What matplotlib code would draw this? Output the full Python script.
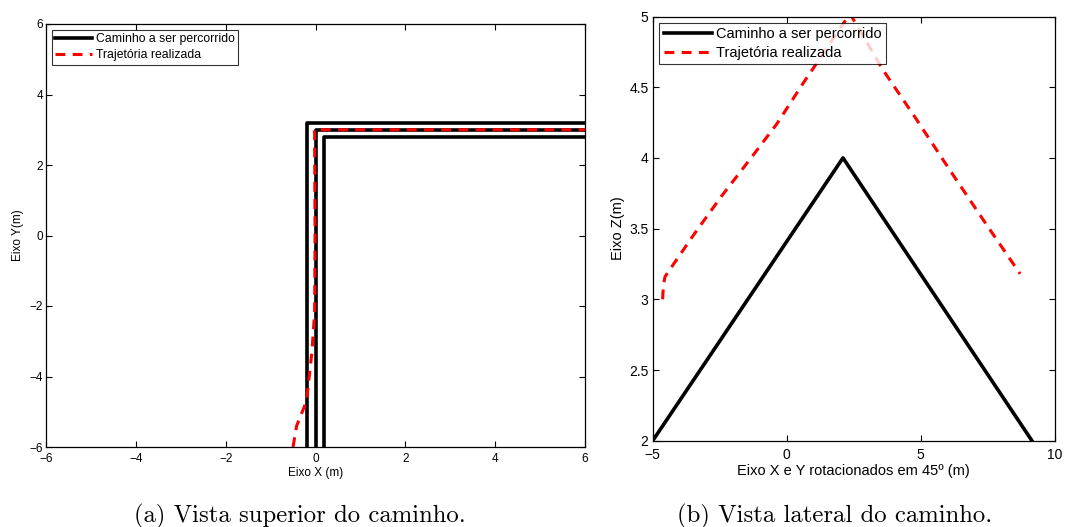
import numpy as np
import matplotlib
matplotlib.use("Agg")
import matplotlib.pyplot as plt
from matplotlib.ticker import FormatStrFormatter

plt.rcParams['font.family'] = ['Liberation Sans', 'DejaVu Sans']

# --- (a) vista superior ---
ext_x = [-0.2, -0.2, 6.5]      # caminho, borda externa
ext_y = [-6.5, 3.2, 3.2]
meio_x = [0.0, 0.0, 6.5]       # caminho, centro
meio_y = [-6.5, 3.0, 3.0]
int_x = [0.2, 0.2, 6.5]        # caminho, borda interna
int_y = [-6.5, 2.8, 2.8]
traj_a_x = [-0.5, -0.42, -0.2, -0.08, -0.02, -0.01, -0.02, -0.03, 6.5]
traj_a_y = [-6.0, -5.4, -4.7, -3.3, -2.2, 0.0, 2.9, 3.0, 3.0]
ticks_a = [-6, -4, -2, 0, 2, 4, 6]

# --- (b) vista lateral ---
cam_b_x = [-5.0, 2.1, 9.15]
cam_b_y = [2.0, 4.0, 2.0]
traj_b_x = [-4.63, -4.6, -4.54, -4.29, -3.42, -2.43, -1.37, -0.37, 0.62, 1.37, 2.36,
            3.6, 4.85, 6.1, 7.34, 8.71]
traj_b_y = [3.0, 3.1, 3.16, 3.23, 3.47, 3.73, 3.99, 4.24, 4.53, 4.74, 5.02,
            4.62, 4.27, 3.91, 3.56, 3.18]
xticks_b = [-5, 0, 5, 10]
yticks_b = [2, 2.5, 3, 3.5, 4, 4.5, 5]

lw = 2.6
dash = (3.2, 2.4)

fig = plt.figure(figsize=(10.66, 5.27), dpi=100)

############ (a)
ax1 = fig.add_axes([46/1066, 1-447/527, (585-46)/1066, (447-24)/527])
ax1.plot(ext_x, ext_y, color='black', lw=lw, label='Caminho a ser percorrido')
ax1.plot(meio_x, meio_y, color='black', lw=lw)
ax1.plot(int_x, int_y, color='black', lw=lw)
ax1.plot(traj_a_x, traj_a_y, color='red', lw=lw*0.85, dashes=dash, label='Trajetória realizada')
ax1.set_xlim(-6, 6)
ax1.set_ylim(-6, 6)
ax1.set_xticks(ticks_a)
ax1.set_yticks(ticks_a)
ax1.tick_params(direction='in', top=True, right=True, labelsize=8.5, length=4, width=0.8, pad=2)
ax1.tick_params(axis='x', pad=4)
ax1.set_xlabel('Eixo X (m)', fontsize=8.5, labelpad=2)
ax1.set_ylabel('Eixo Y(m)', fontsize=8.5, labelpad=4)
leg1 = ax1.legend(loc='upper left', fontsize=8.8, frameon=True, fancybox=False,
                  borderpad=0.3, handlelength=3.0, handletextpad=0.3, labelspacing=0.3,
                  borderaxespad=0.45)
leg1.get_frame().set_edgecolor('black')
leg1.get_frame().set_linewidth(0.8)
for s in ax1.spines.values():
    s.set_linewidth(0.9)

############ (b)
ax2 = fig.add_axes([652.7/1066, 1-440.7/527, (1054.7-652.7)/1066, (440.7-16.5)/527])
ax2.plot(cam_b_x, cam_b_y, color='black', lw=lw, label='Caminho a ser percorrido')
ax2.plot(traj_b_x, traj_b_y, color='red', lw=lw*0.85, dashes=dash, label='Trajetória realizada')
ax2.set_xlim(-5, 10)
ax2.set_ylim(2, 5)
ax2.set_xticks(xticks_b)
ax2.set_yticks(yticks_b)
ax2.yaxis.set_major_formatter(FormatStrFormatter('%g'))
ax2.tick_params(direction='in', top=True, right=True, labelsize=10, length=4, width=0.8, pad=3)
ax2.tick_params(axis='x', pad=5)
ax2.set_xlabel('Eixo X e Y rotacionados em 45º (m)', fontsize=10.5, labelpad=2)
ax2.set_ylabel('Eixo Z(m)', fontsize=10.5, labelpad=3)
leg2 = ax2.legend(loc='upper left', fontsize=10.5, frameon=True, fancybox=False,
                  borderpad=0.3, handlelength=3.3, handletextpad=0.3, labelspacing=0.3,
                  borderaxespad=0.45)
leg2.get_frame().set_edgecolor('black')
leg2.get_frame().set_linewidth(0.8)
for s in ax2.spines.values():
    s.set_linewidth(0.9)

# legendas das figuras
fig.text(300/1066, 1-522/527, '(a) Vista superior do caminho.', family='cmr10',
         fontsize=17.8, ha='center', va='baseline')
fig.text(835/1066, 1-522/527, '(b) Vista lateral do caminho.', family='cmr10',
         fontsize=17.8, ha='center', va='baseline')

fig.savefig('out.png', dpi=100)
